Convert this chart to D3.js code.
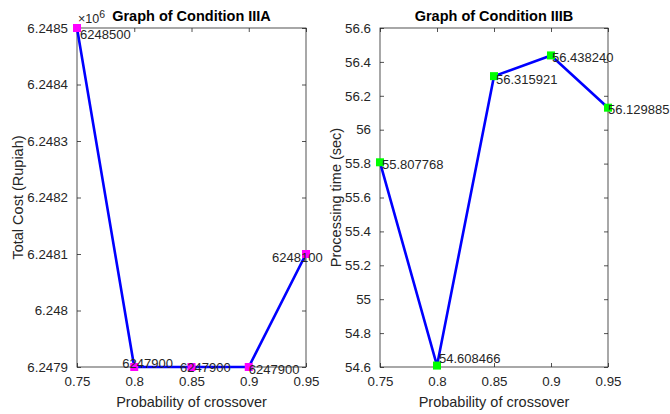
<!DOCTYPE html>
<html><head><meta charset="utf-8">
<script src="https://cdn.jsdelivr.net/npm/d3@7"></script>
<style>
html,body{margin:0;padding:0;background:#fff;}
svg{display:block;font-family:"Liberation Sans",Arial,Helvetica,sans-serif;}
</style></head>
<body>
<svg id="chart" width="670" height="414"></svg>
<script>
// ---------- data ----------
const crossoverProb = [0.75, 0.80, 0.85, 0.90, 0.95];
const totalCost = [6248500, 6247900, 6247900, 6247900, 6248100];
const totalCostLabels = ["6248500", "6247900", "6247900", "6247900", "6248100"];
const processingTime = [55.807768, 54.608466, 56.315921, 56.438240, 56.129885];
const processingTimeLabels = ["55.807768", "54.608466", "56.315921", "56.438240", "56.129885"];
const xTicks = [0.75, 0.80, 0.85, 0.90, 0.95];
const xTickLabels = ["0.75", "0.8", "0.85", "0.9", "0.95"];
const costTicks = [6247900, 6248000, 6248100, 6248200, 6248300, 6248400, 6248500];
const costTickLabels = ["6.2479", "6.248", "6.2481", "6.2482", "6.2483", "6.2484", "6.2485"];
const timeTicks = [54.6, 54.8, 55.0, 55.2, 55.4, 55.6, 55.8, 56.0, 56.2, 56.4, 56.6];
const timeTickLabels = ["54.6", "54.8", "55", "55.2", "55.4", "55.6", "55.8", "56", "56.2", "56.4", "56.6"];

// ---------- layout / style ----------
const svg = d3.select("#chart");
const axisColor = "#262626";
const panels = [
  {
    left: 77, right: 306, top: 28, bottom: 367,
    title: "Graph of Condition IIIA", ylabel: "Total Cost (Rupiah)",
    yDomain: [6247900, 6248500], yTicks: costTicks, yTickLabels: costTickLabels,
    values: totalCost, labels: totalCostLabels, marker: "#ff00ff",
    labelOffsets: [[3, 6], [-12, -4], [-11.5, 0], [0, 2], [-34, 3]],
    ylabelX: 23, exponent: true
  },
  {
    left: 380, right: 608, top: 28, bottom: 367,
    title: "Graph of Condition IIIB", ylabel: "Processing time (sec)",
    yDomain: [54.6, 56.6], yTicks: timeTicks, yTickLabels: timeTickLabels,
    values: processingTime, labels: processingTimeLabels, marker: "#00ff00",
    labelOffsets: [[2, 2], [2, -7], [2, 3], [1, 2], [0, 2]],
    ylabelX: 341, exponent: false
  }
];

panels.forEach(p => {
  const x = d3.scaleLinear().domain([0.75, 0.95]).range([p.left, p.right]);
  const y = d3.scaleLinear().domain(p.yDomain).range([p.bottom, p.top]);
  const g = svg.append("g");
  const tickLen = 4;

  // box
  g.append("rect").attr("x", p.left).attr("y", p.top)
    .attr("width", p.right - p.left).attr("height", p.bottom - p.top)
    .attr("fill", "none").attr("stroke", axisColor).attr("stroke-width", 0.8);

  // axes with inward ticks
  const xb = g.append("g").attr("transform", `translate(0,${p.bottom})`)
    .call(d3.axisBottom(x).tickValues(xTicks).tickSizeInner(-tickLen).tickSizeOuter(0)
      .tickPadding(10).tickFormat((d, i) => xTickLabels[i]));
  const xt = g.append("g").attr("transform", `translate(0,${p.top})`)
    .call(d3.axisTop(x).tickValues(xTicks).tickSizeInner(-tickLen).tickSizeOuter(0).tickFormat(""));
  const yl = g.append("g").attr("transform", `translate(${p.left},0)`)
    .call(d3.axisLeft(y).tickValues(p.yTicks).tickSizeInner(-tickLen).tickSizeOuter(0)
      .tickPadding(9).tickFormat((d, i) => p.yTickLabels[i]));
  const yr = g.append("g").attr("transform", `translate(${p.right},0)`)
    .call(d3.axisRight(y).tickValues(p.yTicks).tickSizeInner(-tickLen).tickSizeOuter(0).tickFormat(""));
  [xb, xt, yl, yr].forEach(a => {
    a.select(".domain").remove();
    a.selectAll(".tick line").attr("stroke", axisColor).attr("stroke-width", 0.8);
    a.selectAll(".tick text").attr("fill", axisColor).style("font-size", "13.3px")
      .style("font-family", "'Liberation Sans',Arial,sans-serif");
  });

  // exponent
  if (p.exponent) {
    const ex = g.append("text").attr("x", p.left + 1).attr("y", 23)
      .attr("fill", axisColor).style("font-size", "12.5px");
    ex.append("tspan").text("\u00d710");
    ex.append("tspan").attr("dy", -5).style("font-size", "10.5px").text("6");
  }

  // title
  g.append("text").attr("x", (p.left + p.right) / 2).attr("y", 21)
    .attr("text-anchor", "middle").attr("fill", "#000")
    .style("font-size", "14.5px").style("font-weight", "bold").text(p.title);

  // x label
  g.append("text").attr("x", (p.left + p.right) / 2).attr("y", 407)
    .attr("text-anchor", "middle").attr("fill", axisColor)
    .style("font-size", "14.5px").text("Probability of crossover");

  // y label
  g.append("text")
    .attr("transform", `translate(${p.ylabelX},${(p.top + p.bottom) / 2}) rotate(-90)`)
    .attr("text-anchor", "middle").attr("fill", axisColor)
    .style("font-size", "14.5px").text(p.ylabel);

  // line
  const pts = crossoverProb.map((c, i) => [c, p.values[i]]);
  g.append("path").datum(pts)
    .attr("d", d3.line().x(d => x(d[0])).y(d => y(d[1])))
    .attr("fill", "none").attr("stroke", "#0000ff").attr("stroke-width", 2.6)
    .attr("stroke-linejoin", "round");

  // markers
  const ms = 8;
  g.selectAll("rect.m").data(pts).enter().append("rect").attr("class", "m")
    .attr("x", d => x(d[0]) - ms / 2).attr("y", d => y(d[1]) - ms / 2)
    .attr("width", ms).attr("height", ms).attr("fill", p.marker);

  // value labels
  g.selectAll("text.v").data(pts).enter().append("text").attr("class", "v")
    .attr("x", (d, i) => x(d[0]) + p.labelOffsets[i][0])
    .attr("y", (d, i) => y(d[1]) + p.labelOffsets[i][1] + 4.7)
    .attr("fill", axisColor).style("font-size", "13px")
    .text((d, i) => p.labels[i]);
});
</script>
</body></html>
